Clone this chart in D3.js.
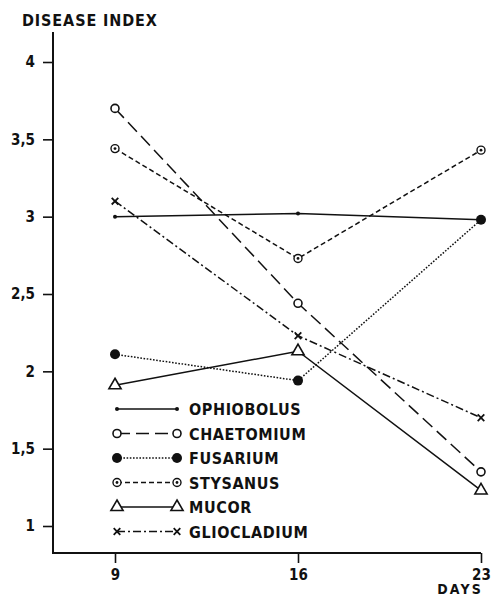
<!DOCTYPE html>
<html>
<head>
<meta charset="utf-8">
<script src="https://cdn.jsdelivr.net/npm/d3@7"></script>
<style>
  html, body { margin: 0; padding: 0; background: #fff; }
  svg { display: block; }
  text { font-family: "DejaVu Sans Condensed", "DejaVu Sans", sans-serif; font-weight: bold; fill: #111; }
</style>
</head>
<body>
<svg id="chart" width="491" height="597"></svg>
<script>
// Sampling days (x) and disease index per fungus (y)
const days = [9, 16, 23];
const ophiobolus  = [3.00, 3.02, 2.98];
const chaetomium  = [3.70, 2.44, 1.35];
const fusarium    = [2.11, 1.94, 2.98];
const stysanus    = [3.44, 2.73, 3.43];
const mucor       = [1.91, 2.13, 1.23];
const gliocladium = [3.10, 2.23, 1.70];

const seriesNames = ["OPHIOBOLUS", "CHAETOMIUM", "FUSARIUM", "STYSANUS", "MUCOR", "GLIOCLADIUM"];
const yTicks = [1, 1.5, 2, 2.5, 3, 3.5, 4];
const yTickLabels = ["1", "1,5", "2", "2,5", "3", "3,5", "4"];

// Drawing style for each series
const styles = {
  OPHIOBOLUS:  { values: ophiobolus,  dash: null,        marker: "smalldot" },
  CHAETOMIUM:  { values: chaetomium,  dash: "13,6",      marker: "open" },
  FUSARIUM:    { values: fusarium,    dash: "1.6,1.6",   marker: "filled" },
  STYSANUS:    { values: stysanus,    dash: "5,3",       marker: "ring" },
  MUCOR:       { values: mucor,       dash: null,        marker: "triangle" },
  GLIOCLADIUM: { values: gliocladium, dash: "8,3,2,3",   marker: "cross" }
};

const svg = d3.select("#chart");
const ink = "#111";

const x = d3.scaleLinear().domain([9, 23]).range([115, 481]);
const y = d3.scaleLinear().domain([1, 4]).range([526, 62]);

const axisX0 = 53, axisY0 = 553;

// Axes frame
svg.append("line").attr("x1", axisX0).attr("x2", axisX0).attr("y1", 32).attr("y2", axisY0)
  .attr("stroke", ink).attr("stroke-width", 2);
svg.append("line").attr("x1", axisX0 - 1).attr("x2", x(23)).attr("y1", axisY0).attr("y2", axisY0)
  .attr("stroke", ink).attr("stroke-width", 2);

// Y ticks (drawn to the left of the axis)
const yAxis = d3.axisLeft(y).tickValues(yTicks).tickSize(10).tickPadding(8)
  .tickFormat((d, i) => yTickLabels[i]);
const gy = svg.append("g").attr("transform", `translate(${axisX0},0)`).call(yAxis);
gy.select(".domain").remove();
gy.selectAll(".tick line").attr("stroke", ink).attr("stroke-width", 1.6);
gy.selectAll(".tick text").attr("font-size", 15).attr("font-family", null).attr("fill", ink);

// X ticks (drawn below the axis)
const xAxis = d3.axisBottom(x).tickValues(days).tickSize(10).tickPadding(6).tickFormat(d3.format("d"));
const gx = svg.append("g").attr("transform", `translate(0,${axisY0})`).call(xAxis);
gx.select(".domain").remove();
gx.selectAll(".tick line").attr("stroke", ink).attr("stroke-width", 1.6);
gx.selectAll(".tick text").attr("font-size", 15).attr("font-family", null).attr("fill", ink);

// Axis titles
svg.append("text").attr("x", 22).attr("y", 26).attr("font-size", 16)
  .attr("letter-spacing", 0.9).text("DISEASE INDEX");
svg.append("text").attr("x", 483).attr("y", 594).attr("font-size", 14)
  .attr("text-anchor", "end").attr("letter-spacing", 2.2).text("DAYS");

// Marker painter
function drawMarker(g, kind, cx, cy) {
  switch (kind) {
    case "smalldot":
      g.append("circle").attr("cx", cx).attr("cy", cy).attr("r", 2).attr("fill", ink);
      break;
    case "open":
      g.append("circle").attr("cx", cx).attr("cy", cy).attr("r", 4).attr("fill", "#fff")
        .attr("stroke", ink).attr("stroke-width", 1.6);
      break;
    case "filled":
      g.append("circle").attr("cx", cx).attr("cy", cy).attr("r", 5).attr("fill", ink);
      break;
    case "ring":
      g.append("circle").attr("cx", cx).attr("cy", cy).attr("r", 4).attr("fill", "#fff")
        .attr("stroke", ink).attr("stroke-width", 1.4);
      g.append("circle").attr("cx", cx).attr("cy", cy).attr("r", 1.4).attr("fill", ink);
      break;
    case "triangle":
      g.append("path").attr("d", d3.symbol(d3.symbolTriangle, 64)())
        .attr("transform", `translate(${cx},${cy})`)
        .attr("fill", "#fff").attr("stroke", ink).attr("stroke-width", 1.6);
      break;
    case "cross":
      g.append("path").attr("d", d3.symbol(d3.symbolX, 30)())
        .attr("transform", `translate(${cx},${cy})`)
        .attr("fill", "none").attr("stroke", ink).attr("stroke-width", 1.8);
      break;
  }
}

const line = d3.line().x(d => x(d.day)).y(d => y(d.v));

// Series lines with markers
const plot = svg.append("g");
seriesNames.forEach(name => {
  const s = styles[name];
  const pts = days.map((day, i) => ({ day, v: s.values[i] }));
  plot.append("path").datum(pts).attr("d", line)
    .attr("fill", "none").attr("stroke", ink).attr("stroke-width", 1.5)
    .attr("stroke-dasharray", s.dash);
  const mg = plot.append("g");
  pts.forEach(p => drawMarker(mg, s.marker, x(p.day), y(p.v)));
});

// Legend
const legX0 = 117, legX1 = 177, legTextX = 189, legY0 = 409, legStep = 24.5;
const leg = svg.append("g");
seriesNames.forEach((name, i) => {
  const s = styles[name];
  const ly = legY0 + i * legStep;
  leg.append("line").attr("x1", legX0).attr("x2", legX1).attr("y1", ly).attr("y2", ly)
    .attr("stroke", ink).attr("stroke-width", 1.5).attr("stroke-dasharray", s.dash);
  drawMarker(leg, s.marker, legX0, ly);
  drawMarker(leg, s.marker, legX1, ly);
  leg.append("text").attr("x", legTextX).attr("y", ly + 6).attr("font-size", 16)
    .attr("letter-spacing", 0.6).text(name);
});
</script>
</body>
</html>
